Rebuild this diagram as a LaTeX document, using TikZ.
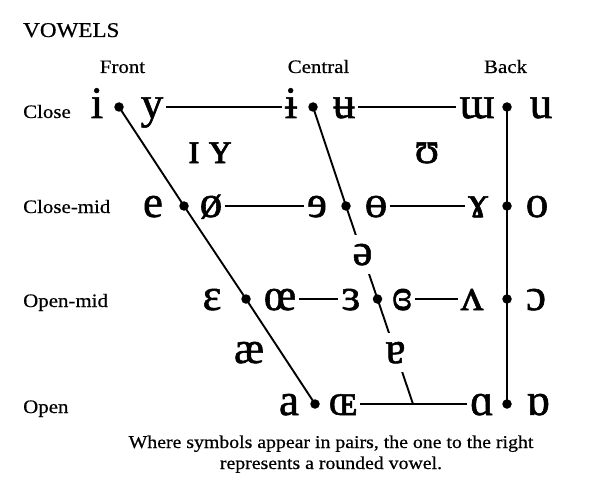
\documentclass[tikz,border=0pt]{standalone}
\usepackage{fontspec}
\setmainfont[FakeStretch=1.1,FakeBold=0.6]{Liberation Serif}
\newfontfamily\ipafont[FakeBold=1.2]{Liberation Serif}
\begin{document}
\begin{tikzpicture}[x=1pt,y=-1pt,
  lbl/.style={anchor=base west, inner sep=0pt, font=\fontsize{19}{22}\selectfont},
  hdr/.style={anchor=base, inner sep=0pt, font=\fontsize{19}{22}\selectfont},
  capt/.style={anchor=base, inner sep=0pt, font=\fontsize{18}{21}\selectfont},
  sym/.style={anchor=base, inner ysep=2pt, inner xsep=3pt, font=\ipafont\fontsize{45}{50}\selectfont},
  gapsym/.style={sym, fill=white, inner ysep=9pt, inner xsep=2pt},
  vdot/.style={circle, fill=black, inner sep=0pt, minimum size=9.5pt},
  chart/.style={line width=1.9pt},
  rowline/.style={line width=1.4pt}]
\useasboundingbox (0,0) rectangle (609,489);
\fill[white] (0,0) rectangle (609,489);

% titles
\node[lbl, font=\fontsize{21}{24}\selectfont] (title) at (23,37) {VOWELS};
\node[hdr] (hfront) at (122.5,73) {Front};
\node[hdr] (hcentral) at (318.5,73) {Central};
\node[hdr] (hback) at (505.5,73) {Back};
\node[lbl] (rclose) at (23,118) {Close};
\node[lbl] (rclosemid) at (23,213) {Close-mid};
\node[lbl] (ropenmid) at (23,307) {Open-mid};
\node[lbl] (ropen) at (23,413) {Open};

% chart points
\coordinate (f1) at (119,107);
\coordinate (f2) at (184,206);
\coordinate (f3) at (246,299);
\coordinate (f4) at (315,404);
\coordinate (c1) at (313,107);
\coordinate (c2) at (346,206);
\coordinate (c3) at (377.5,299);
\coordinate (c4) at (413,404);
\coordinate (b1) at (507,107);
\coordinate (b2) at (507,206);
\coordinate (b3) at (507,299);
\coordinate (b4) at (507,404);

% skeleton lines
\draw[chart] (f1) -- (f2) -- (f3) -- (f4);
\draw[chart] (c1) -- (c2) -- (c3) -- (c4);
\draw[chart] (b1) -- (b2) -- (b3) -- (b4);

% symbols: close
\node[sym] (si) at (97,118) {i};
\node[sym] (sy) at (152,118) {y};
\node[sym] (sbi) at (291,118) {ɨ};
\node[sym] (sbu) at (344,118) {ʉ};
\node[sym] (stu) at (477,118) {ɯ};
\node[sym] (su) at (541,118) {u};
% close-mid
\node[sym] (se) at (153,217) {e};
\node[sym] (so) at (211,217) {ø};
\node[sym] (sre) at (317,217) {ɘ};
\node[sym] (sbo) at (376,217) {ɵ};
\node[sym] (sga) at (478,217) {ɤ};
\node[sym] (sbacko) at (537,217) {o};
% open-mid
\node[sym] (seps) at (212,310) {ɛ};
\node[sym] (soe) at (280,310) {œ};
\node[sym] (srev) at (351,310) {ɜ};
\node[sym] (sclrev) at (402,310) {ɞ};
\node[sym] (swedge) at (472,310) {ʌ};
\node[sym] (sopeno) at (536,310) {ɔ};
% open
\node[sym] (sa) at (289,415) {a};
\node[sym] (soee) at (343,415) {ɶ};
\node[sym] (salpha) at (482,415) {ɑ};
\node[sym] (sturna) at (538,415) {ɒ};
% in-between
\node[sym] (scapi) at (194,163) {ɪ};
\node[sym] (scapy) at (220,163) {ʏ};
\node[sym] (supsilon) at (427,163) {ʊ};
\node[sym] (sae) at (249,363) {æ};
\node[gapsym] (sschwa) at (362.5,265) {ə};
\node[gapsym] (sturnedA) at (395.5,363) {ɐ};

% row lines
\draw[rowline] (sy.east |- f1) -- (sbi.west |- f1);
\draw[rowline] (sbu.east |- c1) -- (stu.west |- c1);
\draw[rowline] (so.east |- f2) -- (sre.west |- f2);
\draw[rowline] (sbo.east |- c2) -- (sga.west |- c2);
\draw[rowline] (soe.east |- f3) -- (srev.west |- f3);
\draw[rowline] (sclrev.east |- c3) -- (swedge.west |- c3);
\draw[rowline] (soee.east |- f4) -- (c4) -- (salpha.west |- f4);

% dots
\foreach \p in {f1,f2,f3,f4,c1,c2,c3,b1,b2,b3,b4}
  \node[vdot] at (\p) {};

% caption
\node[capt] (cap1) at (331,448) {Where symbols appear in pairs, the one to the right};
\node[capt] (cap2) at (331,469) {represents a rounded vowel.};
\end{tikzpicture}
\end{document}
